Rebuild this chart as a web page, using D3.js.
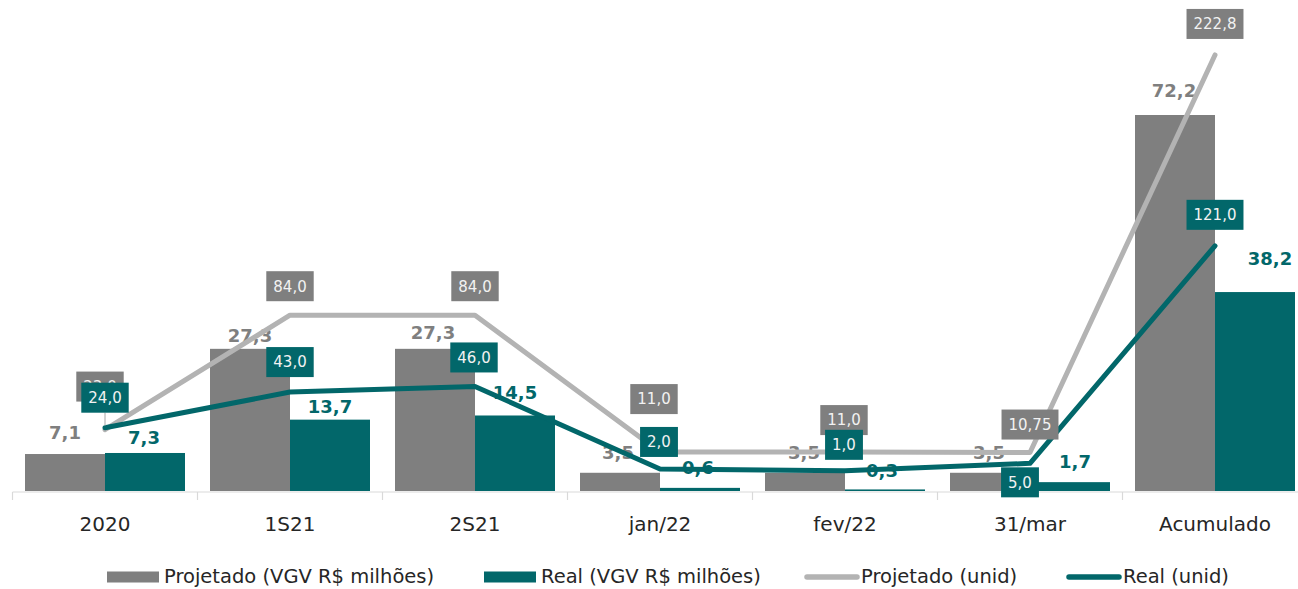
<!DOCTYPE html>
<html><head><meta charset="utf-8">
<script src="https://cdn.jsdelivr.net/npm/d3@7"></script>
<style>
html,body{margin:0;padding:0;background:#fff;}
svg{display:block;font-family:"DejaVu Sans",sans-serif;}
</style></head>
<body>
<svg id="chart" width="1298" height="589"></svg>
<script>
const categories = ["2020","1S21","2S21","jan/22","fev/22","31/mar","Acumulado"];
const projVGV  = [7.1, 27.3, 27.3, 3.5, 3.5, 3.5, 72.2];
const realVGV  = [7.3, 13.7, 14.5, 0.6, 0.3, 1.7, 38.2];
const projUnid = [23.0, 84.0, 84.0, 11.0, 11.0, 10.75, 222.8];
const realUnid = [24.0, 43.0, 46.0, 2.0, 1.0, 5.0, 121.0];
const seriesNames = ["Projetado (VGV R$ milhões)","Real (VGV R$ milhões)","Projetado (unid)","Real (unid)"];

// label placement tweaks (layout only)
const projVGVLab = [[0,-22],[0,-13],[-2,-16],[-2,-20],[-1,-20],[-1,-20],[-1,-24]];
const realVGVLab = [[-1,-15],[0,-13],[0,-23],[-2,-20],[-3,-19],[5,-21],[15,-34]];
const projUnidLab = [[-5,-43],[0,-29],[0,-29],[-6,-53],[-1,-32],[0,-28],[0,-31]];
const realUnidLab = [[0,-30],[0,-30],[-1,-29],[-1,-27],[-1,-26],[-10,19],[0,-31]];

const C = {gray:"#7f7f7f", teal:"#02676a", grayLine:"#b3b3b3", text:"#262626", axis:"#d9d9d9"};
const fmt = v => (Number.isInteger(Math.round(v*100)/10) ? v.toFixed(1) : v.toFixed(2)).replace(".", ",");

const svg = d3.select("#chart");
const x = d3.scaleBand().domain(categories).range([12.5, 1307.5]).padding(0);
const xs = d3.scaleBand().domain(["proj","real"]).range([12.5, 172.5]).padding(0);
const yBar = d3.scaleLinear().domain([0, 80]).range([491, 491 - 80*376/72.2]);
const yLine = d3.scaleLinear().domain([0, 240]).range([472.7, 472.7 - 240*1.875]);
const cx = c => x(c) + x.bandwidth()/2;

// axis line & boundary ticks
const axisG = svg.append("g").attr("transform","translate(0,492)");
axisG.append("line").attr("x1", x.range()[0]).attr("x2", x.range()[1]).attr("stroke", C.axis).attr("stroke-width",1.2);
const bounds = categories.map(c => x(c)).concat([x.range()[1]]);
axisG.selectAll("line.tk").data(bounds).join("line").attr("class","tk")
  .attr("x1", d=>d).attr("x2", d=>d).attr("y1",0).attr("y2",8).attr("stroke", C.axis).attr("stroke-width",1.2);
const ax = d3.axisBottom(x).tickSize(0).tickPadding(25);
const axText = svg.append("g").attr("transform","translate(0,492)").call(ax);
axText.select(".domain").remove();
axText.selectAll("text").attr("font-family","DejaVu Sans, sans-serif").attr("font-size",20).attr("fill",C.text);

// bars
svg.append("g").selectAll("rect").data(categories).join("rect")
  .attr("x", (c)=>x(c)+xs("proj")).attr("width", xs.bandwidth())
  .attr("y", (c,i)=>yBar(projVGV[i])).attr("height",(c,i)=>yBar(0)-yBar(projVGV[i]))
  .attr("fill", C.gray);
svg.append("g").selectAll("rect").data(categories).join("rect")
  .attr("x", (c)=>x(c)+xs("real")).attr("width", xs.bandwidth())
  .attr("y", (c,i)=>yBar(realVGV[i])).attr("height",(c,i)=>yBar(0)-yBar(realVGV[i]))
  .attr("fill", C.teal);

// bar labels
svg.append("g").selectAll("text").data(categories).join("text")
  .attr("x",(c,i)=>x(c)+xs("proj")+xs.bandwidth()/2+projVGVLab[i][0])
  .attr("y",(c,i)=>yBar(projVGV[i])+projVGVLab[i][1])
  .attr("dy","0.36em").attr("text-anchor","middle")
  .attr("font-size",18).attr("font-weight","bold").attr("fill",C.gray)
  .text((c,i)=>fmt(projVGV[i]));
svg.append("g").selectAll("text").data(categories).join("text")
  .attr("x",(c,i)=>x(c)+xs("real")+xs.bandwidth()/2+realVGVLab[i][0])
  .attr("y",(c,i)=>yBar(realVGV[i])+realVGVLab[i][1])
  .attr("dy","0.36em").attr("text-anchor","middle")
  .attr("font-size",18).attr("font-weight","bold").attr("fill",C.teal)
  .text((c,i)=>fmt(realVGV[i]));

// lines
const lineGen = vals => d3.line().x((c)=>cx(c)).y((c,i)=>yLine(vals[i]))(categories);
svg.append("path").attr("d", lineGen(projUnid)).attr("fill","none")
  .attr("stroke",C.grayLine).attr("stroke-width",5).attr("stroke-linecap","round").attr("stroke-linejoin","round");
svg.append("path").attr("d", lineGen(realUnid)).attr("fill","none")
  .attr("stroke",C.teal).attr("stroke-width",5).attr("stroke-linecap","round").attr("stroke-linejoin","round");

// leader line at 2020
svg.append("line").attr("x1",cx(categories[0])).attr("x2",cx(categories[0]))
  .attr("y1", yLine(realUnid[0])+realUnidLab[0][1]+15).attr("y2", yLine(realUnid[0])-2)
  .attr("stroke","#a6a6a6").attr("stroke-width",1);

// boxed labels
function boxLabels(vals, offs, fill){
  const g = svg.append("g");
  categories.forEach((c,i)=>{
    const px = cx(c)+offs[i][0], py = yLine(vals[i])+offs[i][1];
    const gg = g.append("g");
    const r = gg.append("rect").attr("fill",fill);
    const t = gg.append("text").attr("x",px).attr("y",py).attr("dy","0.36em")
      .attr("text-anchor","middle").attr("font-size",15).attr("fill","#f2f2f2").text(fmt(vals[i]));
    const w = t.node().getComputedTextLength()+14;
    r.attr("x",px-w/2).attr("y",py-15).attr("width",w).attr("height",30);
  });
}
boxLabels(projUnid, projUnidLab, C.gray);
boxLabels(realUnid, realUnidLab, C.teal);

// legend
const lg = svg.append("g").attr("font-size",19.5).attr("fill",C.text);
const legendItems = [
  {name:seriesNames[0], type:"rect", color:C.gray, x:107},
  {name:seriesNames[1], type:"rect", color:C.teal, x:484},
  {name:seriesNames[2], type:"line", color:C.grayLine, x:804},
  {name:seriesNames[3], type:"line", color:C.teal, x:1066}
];
legendItems.forEach(d=>{
  if(d.type==="rect"){
    lg.append("rect").attr("x",d.x).attr("y",571.5).attr("width",52).attr("height",11).attr("fill",d.color);
  } else {
    lg.append("line").attr("x1",d.x+3).attr("x2",d.x+53).attr("y1",577).attr("y2",577)
      .attr("stroke",d.color).attr("stroke-width",5.5).attr("stroke-linecap","round");
  }
  lg.append("text").attr("x",d.x+57).attr("y",583).attr("fill",C.text).text(d.name);
});
</script>
</body></html>
